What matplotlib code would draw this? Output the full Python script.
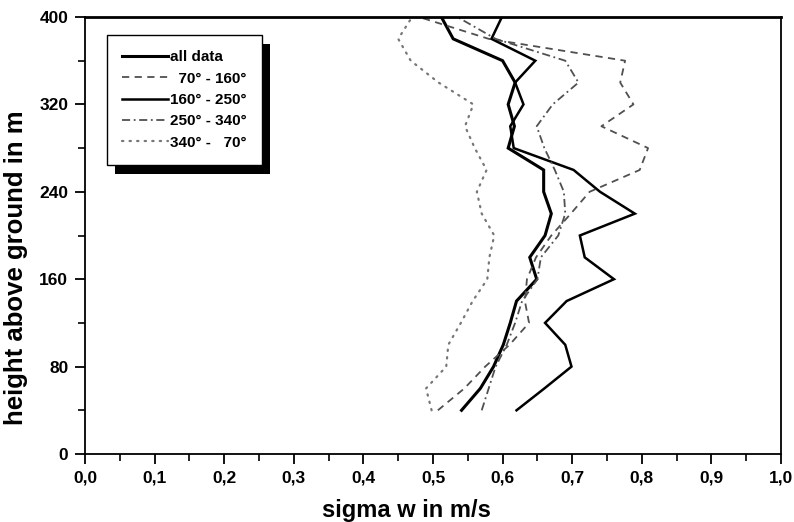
import matplotlib
matplotlib.use("Agg")
import matplotlib.pyplot as plt
from matplotlib.patches import Rectangle
from matplotlib.ticker import MultipleLocator

plt.rcParams['font.family'] = ['Liberation Sans', 'DejaVu Sans']
plt.rcParams['font.weight'] = 'bold'

# height levels (m)
heights = [40, 60, 80, 100, 120, 140, 160, 180, 200, 220, 240,
           260, 280, 300, 320, 340, 360, 380, 400]

# sigma w (m/s) per wind direction sector
all_data = [0.541, 0.568, 0.587, 0.601, 0.611, 0.620, 0.649, 0.639, 0.661, 0.670,
            0.659, 0.659, 0.608, 0.617, 0.608, 0.618, 0.600, 0.529, 0.512]
sec_70_160 = [0.507, 0.545, 0.575, 0.610, 0.638, 0.632, 0.635, 0.648, 0.670, 0.698,
              0.725, 0.797, 0.809, 0.742, 0.788, 0.769, 0.776, 0.580, 0.480]
sec_160_250 = [0.620, 0.660, 0.699, 0.690, 0.661, 0.692, 0.760, 0.718, 0.711, 0.790,
               0.740, 0.702, 0.616, 0.611, 0.630, 0.618, 0.647, 0.584, 0.599]
sec_250_340 = [0.570, 0.580, 0.590, 0.606, 0.618, 0.628, 0.650, 0.655, 0.680, 0.690,
               0.688, 0.675, 0.660, 0.649, 0.672, 0.709, 0.690, 0.590, 0.535]
sec_340_70 = [0.498, 0.490, 0.519, 0.522, 0.540, 0.557, 0.578, 0.581, 0.588, 0.570,
              0.563, 0.577, 0.560, 0.546, 0.558, 0.508, 0.468, 0.450, 0.470]

labels = ["all data", "  70° - 160°", "160° - 250°", "250° - 340°", "340° -   70°"]

x_ticks = [0.0, 0.1, 0.2, 0.3, 0.4, 0.5, 0.6, 0.7, 0.8, 0.9, 1.0]
x_ticklabels = ["0,0", "0,1", "0,2", "0,3", "0,4", "0,5", "0,6", "0,7", "0,8", "0,9", "1,0"]
y_ticks = [0, 80, 160, 240, 320, 400]

fig = plt.figure(figsize=(7.94, 5.22), dpi=100)
ax = fig.add_axes([85 / 794, 1 - 454 / 522, 696 / 794, 437 / 522])

ax.plot(all_data, heights, color='black', lw=2.2, label=labels[0],
        solid_joinstyle='miter')
ax.plot(sec_70_160, heights, color='#505050', lw=1.3, dashes=(4, 3), label=labels[1])
ax.plot(sec_160_250, heights, color='black', lw=1.8, label=labels[2],
        solid_joinstyle='miter')
ax.plot(sec_250_340, heights, color='#505050', lw=1.3, dashes=(4.5, 2, 1, 2), label=labels[3])
ax.plot(sec_340_70, heights, color='#777777', lw=1.6, dashes=(0.6, 2.8),
        dash_capstyle='round', label=labels[4])

ax.set_xlim(0, 1.0)
ax.set_ylim(0, 400)
ax.set_xticks(x_ticks)
ax.set_xticklabels(x_ticklabels)
ax.set_yticks(y_ticks)
ax.xaxis.set_minor_locator(MultipleLocator(0.05))
ax.yaxis.set_minor_locator(MultipleLocator(40))
ax.tick_params(which='major', direction='out', length=7, width=1.3,
               labelsize=12.5, pad=5)
ax.tick_params(which='minor', direction='out', length=5, width=1.2)
for lab in ax.get_xticklabels() + ax.get_yticklabels():
    lab.set_fontweight('bold')
for side, sp in ax.spines.items():
    sp.set_linewidth(1.3)
ax.spines['top'].set_linewidth(2.0)

fig.text(406 / 794, 1 - 511 / 522, "sigma w in m/s", ha='center', va='center',
         fontsize=17, fontweight='bold')
fig.text(16 / 794, 1 - 268 / 522, "height above ground in m", ha='center', va='center',
         rotation=90, fontsize=18.5, fontweight='bold')

leg = ax.legend(loc='upper left', bbox_to_anchor=((107 - 85) / 696, (454 - 35) / 437),
                borderaxespad=0, fancybox=False, frameon=True,
                handlelength=3.0, handletextpad=0.1, labelspacing=0.48,
                borderpad=1.0, prop={'weight': 'bold', 'size': 11.0})
leg.get_frame().set_edgecolor('black')
leg.get_frame().set_linewidth(1.0)
leg.get_frame().set_alpha(1)
leg.set_zorder(6)

# solid drop shadow behind the legend box
fig.canvas.draw()
bb = leg.get_window_extent().transformed(ax.transAxes.inverted())
dx, dy = 8 / 696, -9 / 437
ax.add_patch(Rectangle((bb.x0 + dx, bb.y0 + dy), bb.width, bb.height,
                       transform=ax.transAxes, facecolor='black', edgecolor='none',
                       zorder=5.5, clip_on=False))

fig.savefig("out.png", dpi=100)
